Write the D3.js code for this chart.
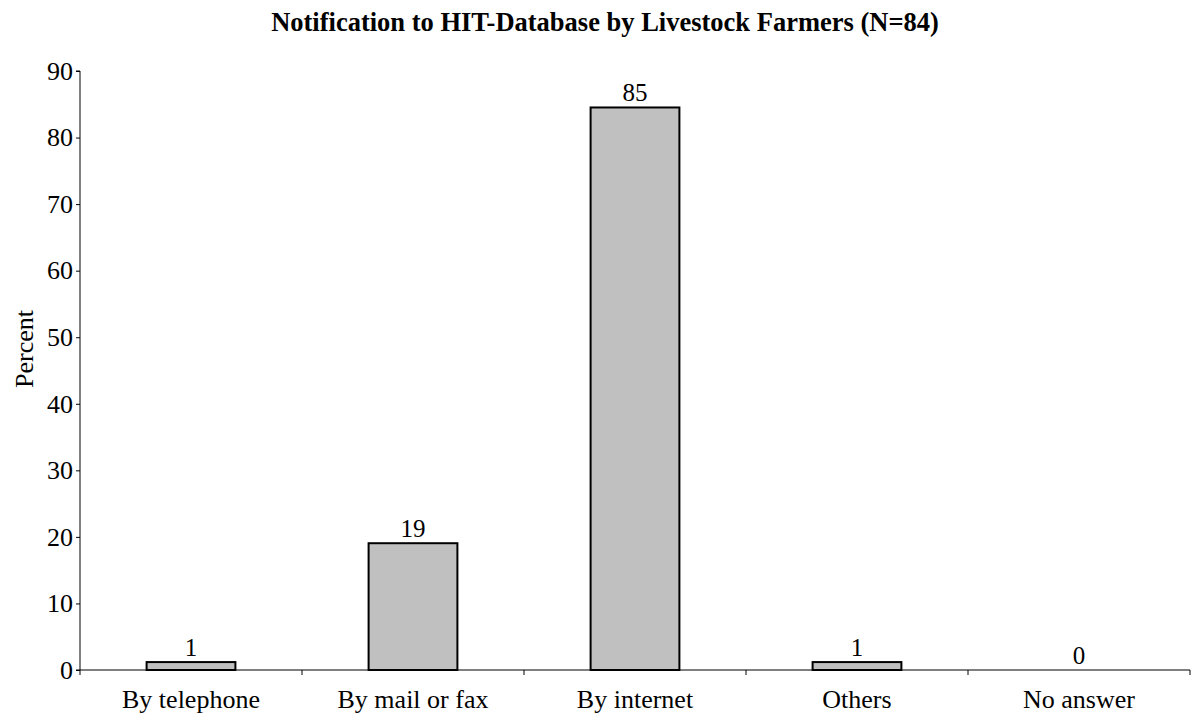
<!DOCTYPE html>
<html>
<head>
<meta charset="utf-8">
<script src="https://cdn.jsdelivr.net/npm/d3@7"></script>
<style>
  body { margin: 0; background: #fff; }
  svg { display: block; }
  text { font-family: "Liberation Serif", "Times New Roman", serif; fill: #000; }
</style>
</head>
<body>
<div id="chart"></div>
<script>
// categories and percent values (N=84)
var categories = ['By telephone', 'By mail or fax', 'By internet', 'Others', 'No answer'];
var values = [1.19, 19.05, 84.52, 1.19, 0];
var valueLabels = ['1', '19', '85', '1', '0'];
var yTicks = [0, 10, 20, 30, 40, 50, 60, 70, 80, 90];

const width = 1200;
const height = 717;
const margin = {top: 71, right: 10, bottom: 47, left: 80};
const innerWidth = width - margin.left - margin.right;
const innerHeight = height - margin.top - margin.bottom;
const serif = '"Liberation Serif", "Times New Roman", serif';

var svg = d3.select('#chart').append('svg')
  .attr('width', width)
  .attr('height', height);

svg.append('text')
  .attr('x', 605)
  .attr('y', 31)
  .attr('text-anchor', 'middle')
  .attr('font-size', 26.5)
  .attr('font-weight', 'bold')
  .text('Notification to HIT-Database by Livestock Farmers (N=84)');

var g = svg.append('g').attr('transform', 'translate(' + margin.left + ',' + margin.top + ')');

var x = d3.scaleBand().domain(categories).range([0, innerWidth]).paddingInner(0.6).paddingOuter(0.3);
var y = d3.scaleLinear().domain([0, 90]).range([innerHeight, 0]);

// y axis
var yAxis = g.append('g')
  .call(d3.axisLeft(y).tickValues(yTicks).tickSize(4).tickPadding(3).tickFormat(d3.format('d')))
  .attr('font-size', 26)
  .attr('font-family', serif);
yAxis.select('.domain').attr('d', 'M-4,0H0V' + innerHeight + 'H-4');

// x axis with ticks between categories
var xAxis = g.append('g').attr('transform', 'translate(0,' + innerHeight + ')');
xAxis.append('line').attr('x1', 0).attr('x2', innerWidth).attr('stroke', '#000');
var step = innerWidth / categories.length;
xAxis.selectAll('.sep').data(d3.range(categories.length + 1)).join('line')
  .attr('class', 'sep')
  .attr('x1', d => d * step).attr('x2', d => d * step)
  .attr('y1', 0).attr('y2', 5)
  .attr('stroke', '#000');
xAxis.selectAll('.cat').data(categories).join('text')
  .attr('class', 'cat')
  .attr('x', d => x(d) + x.bandwidth() / 2)
  .attr('y', 38)
  .attr('text-anchor', 'middle')
  .attr('font-size', 26)
  .text(d => d);

// bars
g.selectAll('.bar').data(values).join('rect')
  .attr('class', 'bar')
  .attr('x', (d, i) => x(categories[i]))
  .attr('y', d => y(d))
  .attr('width', x.bandwidth())
  .attr('height', d => innerHeight - y(d))
  .attr('fill', '#c0c0c0')
  .attr('stroke', d => d > 0 ? '#000' : 'none')
  .attr('stroke-width', 2);

g.selectAll('.val').data(values).join('text')
  .attr('class', 'val')
  .attr('x', (d, i) => x(categories[i]) + x.bandwidth() / 2)
  .attr('y', d => y(d) - 6)
  .attr('text-anchor', 'middle')
  .attr('font-size', 25)
  .text((d, i) => valueLabels[i]);

svg.append('text')
  .attr('transform', 'translate(33,349) rotate(-90)')
  .attr('text-anchor', 'middle')
  .attr('font-size', 26)
  .text('Percent');
</script>
</body>
</html>
